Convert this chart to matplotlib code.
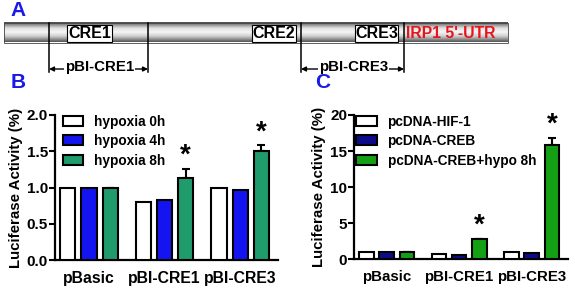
import numpy as np
import matplotlib
matplotlib.use("Agg")
import matplotlib.pyplot as plt
from matplotlib.patches import Rectangle

plt.rcParams['font.family'] = ['Liberation Sans', 'DejaVu Sans']
plt.rcParams['font.weight'] = 'bold'

groups = ["pBasic", "pBI-CRE1", "pBI-CRE3"]

# panel B: hypoxia time course
hyp_labels = ["hypoxia 0h", "hypoxia 4h", "hypoxia 8h"]
hyp0 = [1.0, 0.80, 1.0]
hyp4 = [1.0, 0.83, 0.96]
hyp8 = [1.0, 1.13, 1.51]
hyp8_err = [0.0, 0.13, 0.07]
hyp_star = [False, True, True]

# panel C: overexpression
oe_labels = ["pcDNA-HIF-1", "pcDNA-CREB", "pcDNA-CREB+hypo 8h"]
hif = [1.0, 0.72, 1.0]
creb = [1.0, 0.62, 0.92]
creb_hypo = [1.0, 2.8, 15.9]
creb_hypo_err = [0.0, 0.0, 0.9]
oe_star = [False, True, True]

W, H = 575, 292
fig = plt.figure(figsize=(W / 100, H / 100), dpi=100)

# overlay in pixel coordinates for diagram and panel letters
ov = fig.add_axes([0, 0, 1, 1])
ov.set_xlim(0, W)
ov.set_ylim(H, 0)
ov.axis("off")

# gray cylinder
prof = np.linspace(0, 1, 80)
shade = np.interp(prof, [0, 0.1, 0.3, 0.5, 0.7, 0.9, 1.0],
                  [0.28, 0.5, 0.88, 0.96, 0.82, 0.5, 0.32])
grad = np.tile(shade[:, None], (1, 2))
ov.imshow(grad, cmap="gray", vmin=0, vmax=1, extent=[4, 508, 42.5, 22.5],
          aspect="auto", interpolation="bilinear", zorder=1)
ov.add_patch(Rectangle((4, 22.5), 504, 20, fill=False, ec="#444444", lw=0.6, zorder=2))

for x in [49, 148, 301, 404]:
    ov.plot([x, x], [22.5, 72], color="black", lw=1.1, zorder=3)

for name, x0, x1 in [("CRE1", 67, 112), ("CRE2", 252, 296), ("CRE3", 355, 398)]:
    ov.add_patch(Rectangle((x0, 24.5), x1 - x0, 17.5, fc="white", ec="black", lw=0.8, zorder=4))
    ov.text((x0 + x1) / 2, 33.5, name, ha="center", va="center", fontsize=11.5,
            fontweight="bold", zorder=5)
ov.text(406, 33.5, "IRP1 5'-UTR", color="#e8141c", ha="left", va="center",
        fontsize=11.3, fontweight="bold", zorder=5)

for name, x0, x1 in [("pBI-CRE1", 49, 148), ("pBI-CRE3", 301, 404)]:
    ov.annotate("", xy=(x0, 69), xytext=(x1, 69),
                arrowprops=dict(arrowstyle="<|-|>", color="black", lw=1.0,
                                mutation_scale=7, shrinkA=0, shrinkB=0), zorder=3)
    ov.text((x0 + x1) / 2 + 1, 67, name, ha="center", va="center", fontsize=10.8,
            fontweight="bold", zorder=5,
            bbox=dict(fc="white", ec="none", pad=0.3))

for letter, x, y in [("A", 10, 10), ("B", 11, 83), ("C", 315, 83)]:
    ov.text(x, y, letter, color="#1a1ae6", fontsize=15, fontweight="bold",
            ha="left", va="center")


def bar_panel(rect, series, errs, stars, labels, colors, ymax, yticks,
              legend_anchor, xfs):
    ax = fig.add_axes(rect)
    x = np.arange(len(groups))
    off = [-0.28, 0.0, 0.28]
    for i, (vals, col, lab) in enumerate(zip(series, colors, labels)):
        ax.bar(x + off[i], vals, width=0.2, color=col, edgecolor="black",
               linewidth=1.5, label=lab, zorder=3)
    top = np.array(series[2]) + np.array(errs)
    ax.errorbar(x + off[2], series[2], yerr=[np.zeros(3), errs], fmt="none",
                ecolor="black", elinewidth=1.5, capsize=3, capthick=1.5, zorder=2)
    for xi, t, s in zip(x + off[2], top, stars):
        if s:
            ax.text(xi, t, "*", ha="center", va="bottom",
                    fontsize=20, fontweight="bold")
    ax.set_xlim(-0.45, 2.5)
    ax.set_ylim(0, ymax)
    ax.set_yticks(yticks)
    ax.set_xticks(x)
    ax.set_xticklabels(groups)
    for sp in ["top", "right"]:
        ax.spines[sp].set_visible(False)
    for sp in ["left", "bottom"]:
        ax.spines[sp].set_linewidth(1.6)
    ax.tick_params(axis="y", length=4, width=1.5, labelsize=11, pad=1)
    ax.tick_params(axis="x", length=0, labelsize=xfs, pad=8)
    ax.set_ylabel("Luciferase Activity (%)", fontsize=10.8, fontweight="bold", labelpad=3)
    leg = ax.legend(loc="upper left", bbox_to_anchor=legend_anchor, frameon=False,
                    fontsize=9.8, handlelength=1.5, handleheight=0.75,
                    labelspacing=0.4, handletextpad=0.8, borderaxespad=0)
    for p in leg.get_patches():
        p.set_linewidth(1.5)
    return ax


bar_panel([55 / W, 1 - 260 / H, 223 / W, 145 / H],
          [hyp0, hyp4, hyp8], hyp8_err, hyp_star, hyp_labels,
          ["white", "#1414f0", "#1f9b6c"], 2.0, [0.0, 0.5, 1.0, 1.5, 2.0],
          (0.01, 1.04), 11.3)

bar_panel([354 / W, 1 - 259.3 / H, 214 / W, 144.3 / H],
          [hif, creb, creb_hypo], creb_hypo_err, oe_star, oe_labels,
          ["white", "#0c0c8a", "#14a014"], 20, [0, 5, 10, 15, 20],
          (-0.015, 1.04), 10.8)

fig.savefig("out.png", dpi=100)
